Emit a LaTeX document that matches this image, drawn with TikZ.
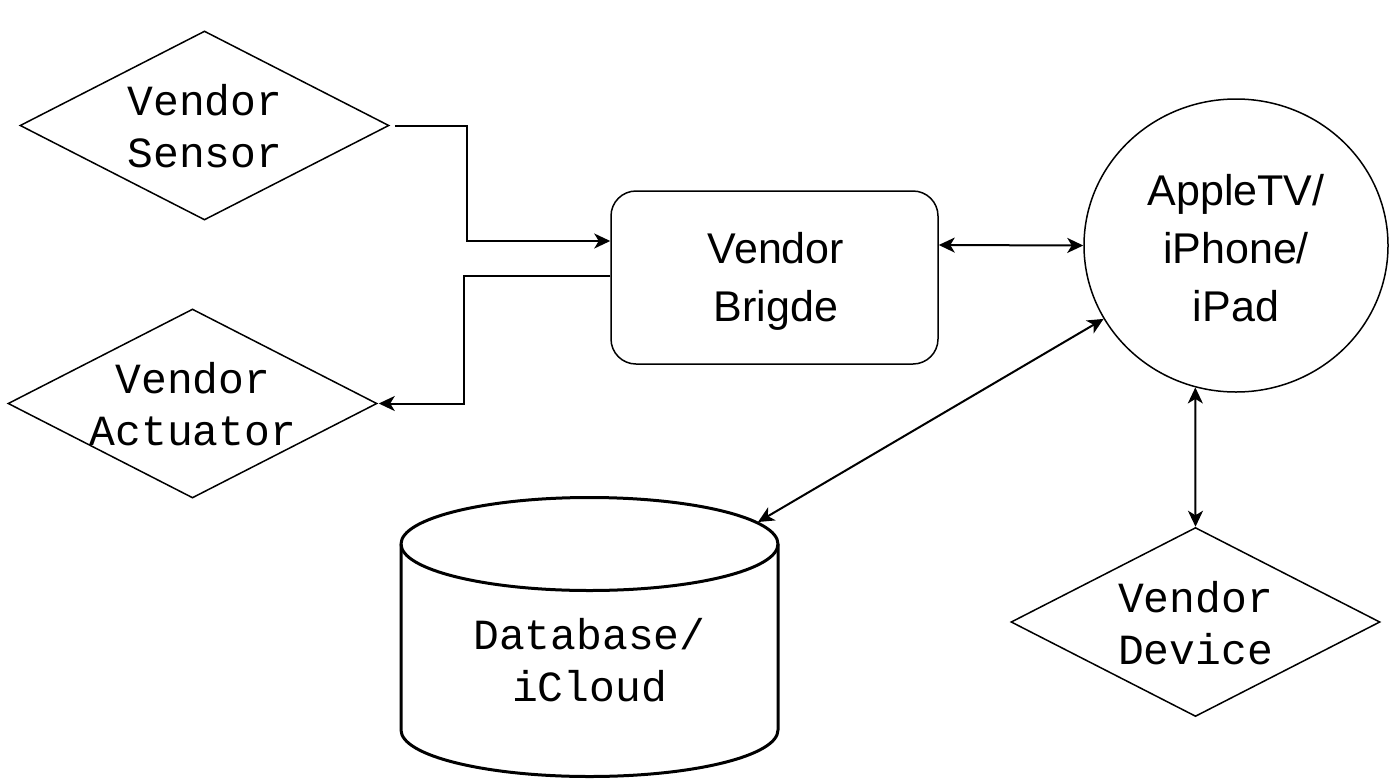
\documentclass[tikz,border=0pt]{standalone}
\usepackage{fontspec}
\setmainfont{Liberation Sans}
\newfontfamily\monof{Liberation Mono}
\usetikzlibrary{shapes.geometric,arrows.meta}
\begin{document}
\begin{tikzpicture}[x=1pt,y=-1pt,
  shapeline/.style={draw=black,line width=1.5pt},
  dia/.style={shapeline,diamond,inner sep=0pt,minimum width=369pt,minimum height=189pt},
  monotext/.style={align=center,inner sep=0pt,font=\monof\fontsize{43}{52}\selectfont},
  sanstext/.style={align=center,inner sep=0pt,font=\fontsize{43}{58}\selectfont},
  conn/.style={draw=black,line width=2pt},
  tip/.style={-{Stealth[length=16pt,width=15pt,inset=4.5pt]}},
  bitip/.style={{Stealth[length=16pt,width=15pt,inset=4.5pt]}-{Stealth[length=16pt,width=15pt,inset=4.5pt]}}
]
\useasboundingbox (0,0) rectangle (1394,782);

% shapes
\node[dia] (sensor) at (204.5,125.5) {};
\node[monotext] (sensortext) at (205,126) {Vendor\\Sensor};

\node[dia] (actuator) at (192.5,403.5) {};
\node[monotext] (actuatortext) at (193,404) {Vendor\\Actuator};

\node[dia] (device) at (1195.5,622) {};
\node[monotext] (devicetext) at (1195.5,623) {Vendor\\Device};

\node[shapeline,rectangle,rounded corners=25pt,minimum width=327pt,minimum height=173pt,inner sep=0pt] (bridge) at (774.5,277.5) {};
\node[sanstext] (bridgetext) at (776,281) {Vendor\\Brigde};

\node[shapeline,ellipse,minimum width=304pt,minimum height=293pt,inner sep=0pt] (apple) at (1236,245.5) {};
\node[sanstext] (appletext) at (1236,248) {AppleTV/\\iPhone/\\iPad};

% cylinder
\draw[line width=3pt,line join=round] (401,544) -- (401,730)
  arc[start angle=180,end angle=360,x radius=188.5pt,y radius=46.5pt]
  -- (778,544)
  arc[start angle=0,end angle=180,x radius=188.5pt,y radius=46.5pt] -- cycle;
\draw[line width=3pt] (401,544) arc[start angle=180,end angle=360,x radius=188.5pt,y radius=46.5pt];
\node[monotext] (db) at (589.5,660) {Database/\\iCloud};
\coordinate (dbtip) at (758,522);

% connectors
\draw[conn,tip] ([xshift=5pt]sensor.east) -- ++(72,0) |- ([yshift=36.5pt]bridge.west);
\draw[conn,tip] ([yshift=1.5pt]bridge.west) -- ++(-146,0) |- ([xshift=1pt]actuator.east);
\draw[conn,bitip] ([yshift=32.5pt]bridge.east) -- (apple.west);
\draw[conn,bitip] (apple.209) -- (dbtip);
\draw[conn,bitip] (apple.254) -- (device.north);
\end{tikzpicture}
\end{document}
